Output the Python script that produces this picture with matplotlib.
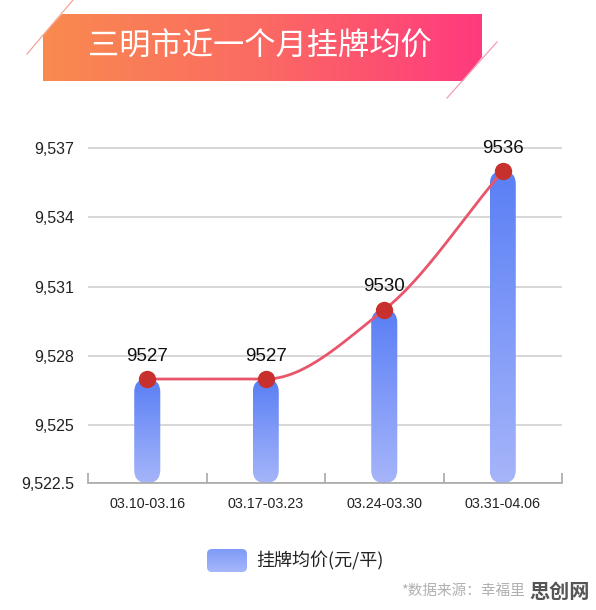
import numpy as np
import matplotlib
matplotlib.use("Agg")
import matplotlib.pyplot as plt
from matplotlib.patches import FancyBboxPatch, Polygon
from matplotlib.colors import LinearSegmentedColormap

plt.rcParams['font.family'] = ['Liberation Sans', 'Noto Sans CJK SC', 'DejaVu Sans']

# ---- data ----
categories = ["03.10-03.16", "03.17-03.23", "03.24-03.30", "03.31-04.06"]
values = [9527, 9527, 9530, 9536]
value_labels = ["9527", "9527", "9530", "9536"]
yticks = [9522.5, 9525, 9528, 9531, 9534, 9537]
ytick_labels = ["9,522.5", "9,525", "9,528", "9,531", "9,534", "9,537"]
title = "三明市近一个月挂牌均价"
legend_label = "挂牌均价(元/平)"
source_text = "*数据来源：幸福里"
watermark = "思创网"

W, H = 596, 610
fig = plt.figure(figsize=(W / 100, H / 100), dpi=100)
fig.patch.set_facecolor("white")

# ---- overlay axes in pixel coords for decorations ----
ov = fig.add_axes([0, 0, 1, 1], zorder=0)
ov.set_xlim(0, W)
ov.set_ylim(H, 0)
ov.axis("off")

# Title banner with gradient
banner_cmap = LinearSegmentedColormap.from_list("ban", ["#f98a4f", "#fb6a63", "#ff3a7e"])
grad = np.linspace(0, 1, 256).reshape(1, -1)
im = ov.imshow(grad, cmap=banner_cmap, extent=[43, 482, 81, 14], aspect="auto", zorder=1)
ban_poly = Polygon([[62, 14], [482, 14], [482, 57], [463, 81], [43, 81], [43, 35]],
                   closed=True, transform=ov.transData, facecolor="none", edgecolor="none")
ov.add_patch(ban_poly)
im.set_clip_path(ban_poly)
ov.plot([27, 73], [54, 0], color="#f4a49a", lw=0.9, zorder=2)
ov.plot([497, 447], [42, 98], color="#f79ab2", lw=0.9, zorder=2)
ov.text(260, 47, title, color="white", fontsize=22.5, ha="center", va="center",
        family=["Noto Sans CJK SC"], fontweight="light", zorder=3)

# Legend
leg_cmap = LinearSegmentedColormap.from_list("leg", ["#7f9cf8", "#a6b6fb"])
lim = ov.imshow(np.linspace(0, 1, 64).reshape(-1, 1), cmap=leg_cmap,
                extent=[207, 247, 572, 549], aspect="auto", zorder=1)
leg_box = FancyBboxPatch((207, 549), 40, 23, boxstyle="round,pad=0,rounding_size=5",
                         facecolor="none", edgecolor="none", transform=ov.transData)
ov.add_patch(leg_box)
lim.set_clip_path(leg_box)
ov.text(256, 561, legend_label, fontsize=13, ha="left", va="center", color="#222222",
        family=["Noto Sans CJK SC"])

# Source + watermark
ov.text(401, 591, source_text, fontsize=10.5, ha="left", va="center", color="#b0b0b0",
        family=["Noto Sans CJK SC"], zorder=2)
ov.text(590, 591, watermark, fontsize=14.5, ha="right", va="center", color="#555555",
        fontweight="bold", family=["Noto Sans CJK SC"], zorder=3,
        bbox=dict(facecolor="white", edgecolor="none", pad=0.5, alpha=0.6))

# ---- main axes ----
ax_left, ax_right = 88, 562
y_bottom_px = 483
ymin, ymax = 9522.5, 9537.5
px_per_unit = 69.3 / 3
y_top_px = 148 - (ymax - 9537) * px_per_unit
ax = fig.add_axes([ax_left / W, (H - y_bottom_px) / H, (ax_right - ax_left) / W,
                   (y_bottom_px - y_top_px) / H], zorder=1)
ax.patch.set_alpha(0)
ax.set_xlim(-0.5, len(categories) - 0.5)
ax.set_ylim(ymin, ymax)

for s in ["top", "right", "left"]:
    ax.spines[s].set_visible(False)
ax.spines["bottom"].set_color("#a8a8a8")
ax.spines["bottom"].set_linewidth(1.2)

ax.set_yticks(yticks)
ax.set_yticklabels(ytick_labels, fontsize=11.5, color="#222222")
ax.tick_params(axis="y", length=0, pad=10)
ax.grid(axis="y", color="#d4d4d4", lw=1.3)
ax.set_axisbelow(True)

x = np.arange(len(categories))
ax.set_xticks(x)
ax.set_xticklabels(categories, fontsize=10.3, color="#222222")
ax.tick_params(axis="x", which="major", length=0, pad=10)
ax.set_xticks(np.arange(-0.5, len(categories)), minor=True)
ax.tick_params(axis="x", which="minor", direction="in", length=7, color="#a8a8a8", width=1.2)

# Bars with rounded ends and vertical gradient (dark at top, light at bottom)
bar_w = 0.22
ax_w_px = ax_right - ax_left
ax_h_px = y_bottom_px - y_top_px
xu_per_px = (len(categories)) / ax_w_px
yu_per_px = (ymax - ymin) / ax_h_px
aspect = yu_per_px / xu_per_px
bar_cmap = LinearSegmentedColormap.from_list("bar", ["#a6b5fa", "#5a7ff5"])
for xi, v in zip(x, values):
    bottom = ymin
    patch = FancyBboxPatch((xi - bar_w / 2, bottom), bar_w, v - bottom,
                           boxstyle=f"round,pad=0,rounding_size={bar_w / 2}",
                           mutation_aspect=aspect, facecolor="none", edgecolor="none",
                           transform=ax.transData, zorder=2)
    ax.add_patch(patch)
    g = ax.imshow(np.linspace(0, 1, 128).reshape(-1, 1), cmap=bar_cmap,
                  extent=[xi - bar_w / 2, xi + bar_w / 2, bottom, v], aspect="auto",
                  zorder=2, origin="lower")
    g.set_clip_path(patch)
ax.set_xlim(-0.5, len(categories) - 0.5)
ax.set_ylim(ymin, ymax)

# Smooth monotone line
def pchip(xs, ys, n=60):
    xs = np.asarray(xs, float); ys = np.asarray(ys, float)
    h = np.diff(xs); d = np.diff(ys) / h
    m = np.zeros_like(ys)
    m[0], m[-1] = d[0], d[-1]
    for k in range(1, len(ys) - 1):
        if d[k - 1] * d[k] <= 0:
            m[k] = 0
        else:
            w1 = 2 * h[k] + h[k - 1]; w2 = h[k] + 2 * h[k - 1]
            m[k] = (w1 + w2) / (w1 / d[k - 1] + w2 / d[k])
    X, Y = [], []
    for k in range(len(h)):
        t = np.linspace(0, 1, n)
        h00 = 2 * t**3 - 3 * t**2 + 1; h10 = t**3 - 2 * t**2 + t
        h01 = -2 * t**3 + 3 * t**2; h11 = t**3 - t**2
        X.append(xs[k] + t * h[k])
        Y.append(h00 * ys[k] + h10 * h[k] * m[k] + h01 * ys[k + 1] + h11 * h[k] * m[k + 1])
    return np.concatenate(X), np.concatenate(Y)

sx, sy = pchip(x, values)
ax.plot(sx, sy, color="#e9566b", lw=2, zorder=3, clip_on=False)
ax.plot(x, values, "o", color="#c8302e", markersize=11.5, zorder=4, clip_on=False)

for xi, v, lab in zip(x, values, value_labels):
    ax.annotate(lab, (xi, v), xytext=(0, 16.5), textcoords="offset points",
                ha="center", va="center", fontsize=13.5, color="#111111", zorder=5)

fig.savefig("out.png", dpi=100, facecolor="white")
